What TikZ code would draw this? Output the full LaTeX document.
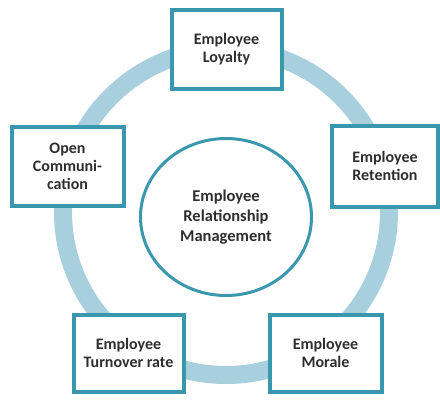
\documentclass[tikz,border=0pt]{standalone}
\usepackage{fontspec}
\setmainfont{Carlito}
\usetikzlibrary{shapes.geometric}
\definecolor{ringblue}{HTML}{A8CFDD}
\definecolor{frameteal}{HTML}{3A98AE}
\definecolor{inkgray}{HTML}{2E2E2E}
\begin{document}
\begin{tikzpicture}[x=1pt,y=-1pt,
  factor/.style={draw=frameteal, line width=4pt, fill=white, inner sep=0pt,
    text=inkgray, font=\bfseries\fontsize{16}{18}\selectfont, align=center},
  hub/.style={draw=frameteal, line width=3pt, fill=white, ellipse, inner sep=0pt,
    text=inkgray, font=\bfseries\fontsize{16.5}{20}\selectfont, align=center}]
\useasboundingbox (0,0) rectangle (440,400);
% light ring joining the factors
\draw[ringblue, line width=18pt] (226,212) circle (163);
% central hub
\node[hub, minimum width=171pt, minimum height=157pt] (erm) at (226,217)
  {Employee\\Relationship\\Management};
% surrounding factors
\node[factor, minimum width=110pt, minimum height=79pt] (loyal) at (226.5,49)
  {Employee\\Loyalty};
\node[factor, minimum width=106pt, minimum height=81pt] (retain) at (385,166)
  {Employee\\Retention};
\node[factor, minimum width=112pt, minimum height=79pt] (open) at (67.5,166)
  {Open\\Communi-\\cation};
\node[factor, minimum width=110pt, minimum height=77pt] (turn) at (128.5,353)
  {Employee\\Turnover rate};
\node[factor, minimum width=112pt, minimum height=77pt] (morale) at (325.5,353)
  {Employee\\Morale};
\end{tikzpicture}
\end{document}
